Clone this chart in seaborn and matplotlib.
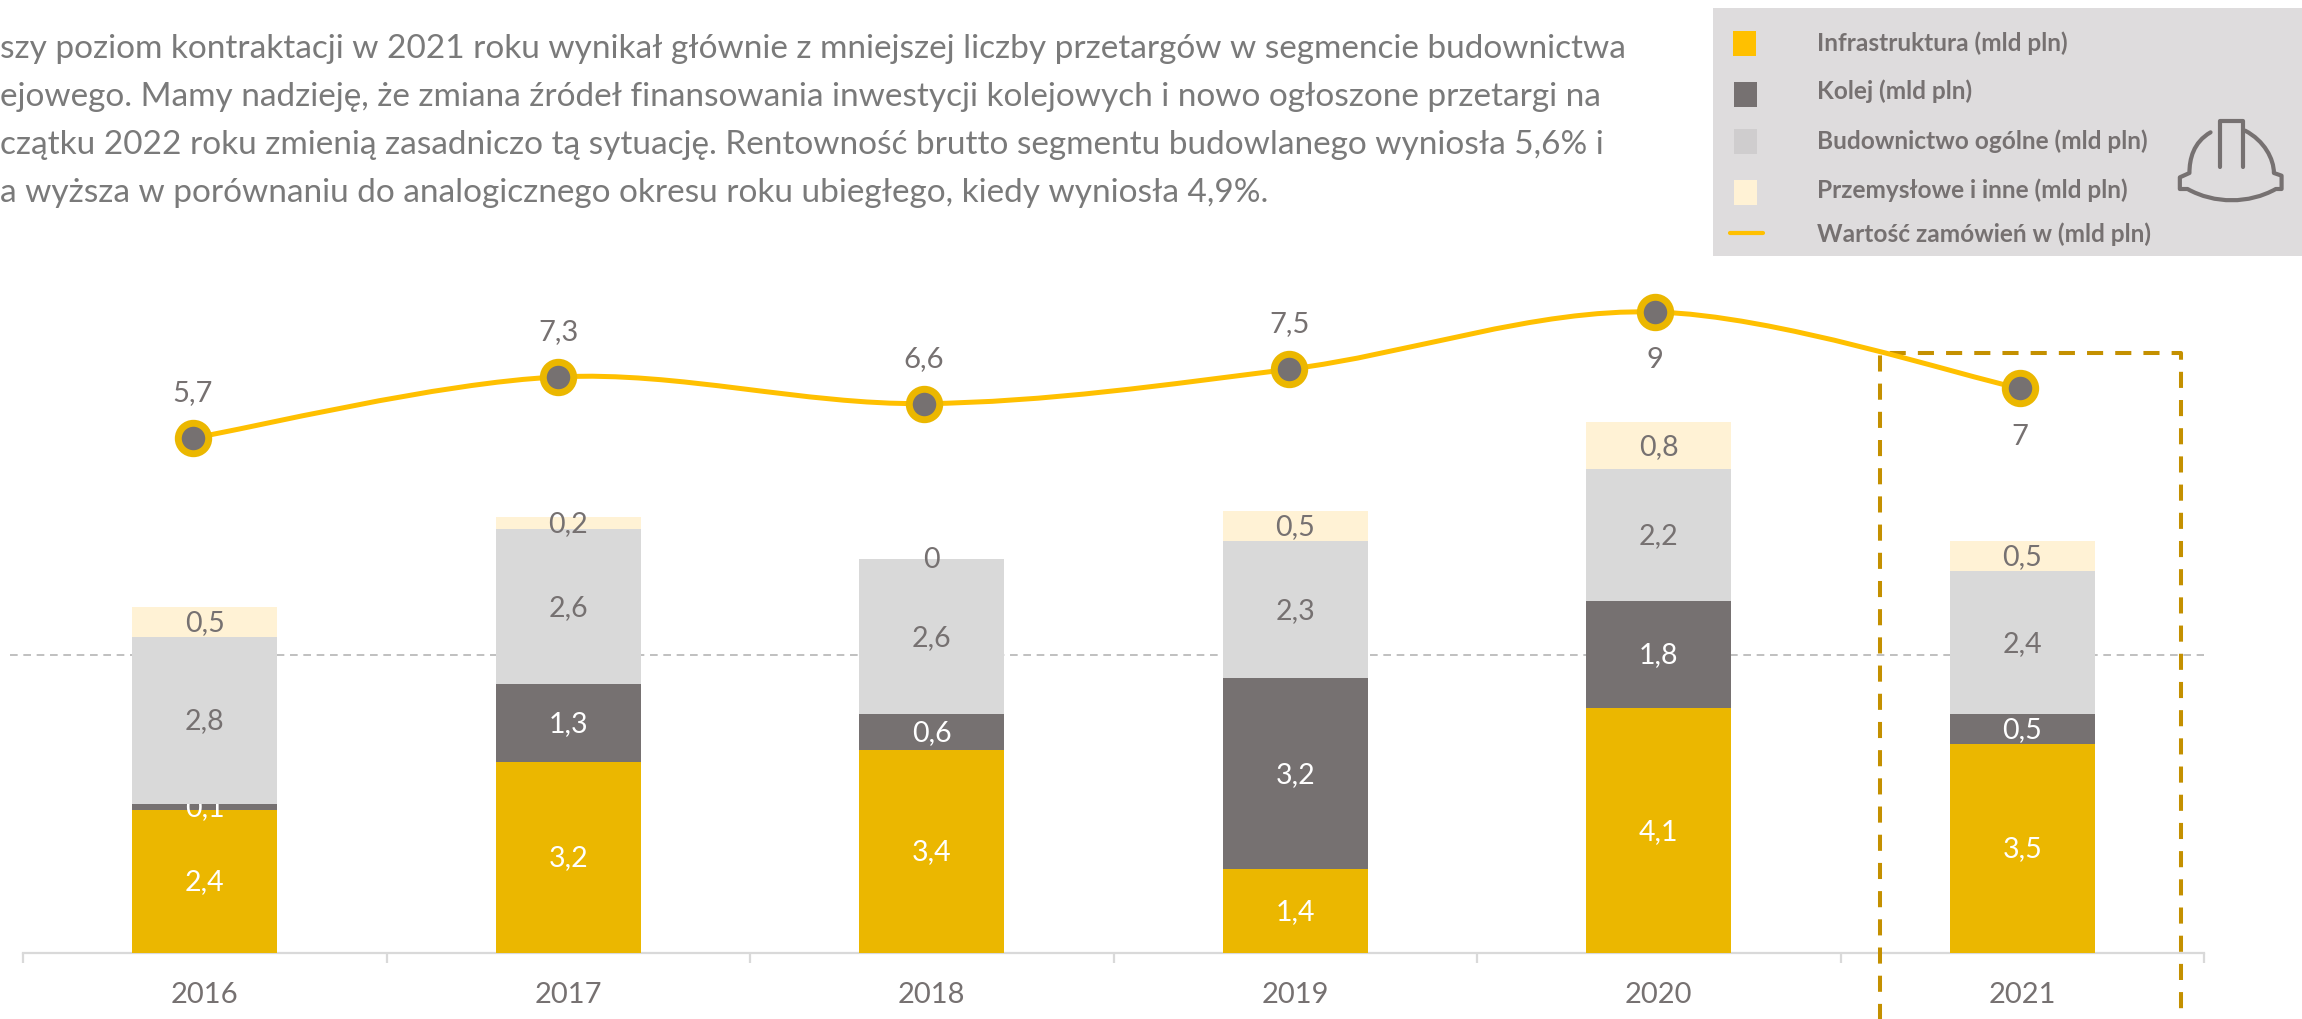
import numpy as np
import seaborn as sns
import matplotlib.pyplot as plt
from matplotlib.path import Path
from matplotlib.patches import PathPatch, Rectangle

years = ['2016', '2017', '2018', '2019', '2020', '2021']
infrastruktura = [2.4, 3.2, 3.4, 1.4, 4.1, 3.5]
kolej = [0.1, 1.3, 0.6, 3.2, 1.8, 0.5]
budownictwo = [2.8, 2.6, 2.6, 2.3, 2.2, 2.4]
przemyslowe = [0.5, 0.2, 0, 0.5, 0.8, 0.5]
zamowienia = [5.7, 7.3, 6.6, 7.5, 9, 7]
label_below = [False, False, False, False, True, True]
reference_level = 5

legend_labels = ['Infrastruktura (mld pln)', 'Kolej (mld pln)', 'Budownictwo ogólne (mld pln)',
                 'Przemysłowe i inne (mld pln)', 'Wartość zamówień w (mld pln)']
body_lines = ['szy poziom kontraktacji w 2021 roku wynikał głównie z mniejszej liczby przetargów w segmencie budownictwa',
              'ejowego. Mamy nadzieję, że zmiana źródeł finansowania inwestycji kolejowych i nowo ogłoszone przetargi na',
              'czątku 2022 roku zmienią zasadniczo tą sytuację. Rentowność brutto segmentu budowlanego wyniosła 5,6% i',
              'a wyższa w porównaniu do analogicznego okresu roku ubiegłego, kiedy wyniosła 4,9%.']

YELLOW = '#EBB700'
LINE_YELLOW = '#FFC000'
DARK = '#767171'
LIGHT = '#D9D9D9'
CREAM = '#FFF2D5'
W, H = 2302, 1020

sns.set_theme(style='white')
plt.rcParams['font.family'] = ['Lato', 'DejaVu Sans']

fig = plt.figure(figsize=(W / 100, H / 100), dpi=100)
# chart area in pixels: x 23..2204, y 200..954
rect = [23 / W, 1 - 954 / H, (2204 - 23) / W, (954 - 200) / H]
ax = fig.add_axes(rect, zorder=1)
over = fig.add_axes([0, 0, 1, 1], zorder=2)
over.set_xlim(0, W)
over.set_ylim(H, 0)
over.axis('off')
ax2 = fig.add_axes(rect, zorder=3)


def fmt(v):
    return f'{v:g}'.replace('.', ',')


# stacked bars
layers = [(infrastruktura, YELLOW, 'white'), (kolej, DARK, 'white'),
          (budownictwo, LIGHT, DARK), (przemyslowe, CREAM, DARK)]
bottom = np.zeros(len(years))
for vals, col, txt in layers:
    sns.barplot(x=years, y=vals, bottom=bottom, color=col, saturation=1, width=0.4, ax=ax, zorder=3,
                linewidth=0, edgecolor='none')
    ax.bar_label(ax.containers[-1], labels=[fmt(v) for v in vals], label_type='center',
                 color=txt, fontsize=20.5)
    bottom = bottom + np.array(vals)

ax.set_xlim(-0.5, 5.5)
ax.set_ylim(0, 754 / 59.7)
ax.hlines(reference_level, -0.536, 5.5, color='#B5B5B5', lw=1.2, linestyles=(0, (4.6, 3.4)), zorder=1, clip_on=False)
sns.despine(ax=ax, left=True)
ax.spines['bottom'].set_color(LIGHT)
ax.spines['bottom'].set_linewidth(1.6)
ax.set_yticks([])
ax.set_xticks(range(len(years)))
ax.set_xticks(np.arange(-0.5, 6), minor=True)
ax.tick_params(axis='x', which='major', length=0, pad=20, labelsize=21, labelcolor=DARK)
ax.tick_params(axis='x', which='minor', length=7, width=1.6, color=LIGHT, bottom=True)

# order line, has its own slightly wider x scale
xpos = np.arange(len(zamowienia), dtype=float)
yvals = np.array(zamowienia, dtype=float)
xlim2 = (-170 / 365.4, 5 + 184 / 365.4)
ylim2 = (5.7 - 515 / 38.2, 5.7 + 239 / 38.2)
ax2.axis('off')
ax2.patch.set_alpha(0)

verts = [(xpos[0], yvals[0])]
codes = [Path.MOVETO]
n = len(xpos)
for i in range(n - 1):
    p0 = np.array([xpos[max(i - 1, 0)], yvals[max(i - 1, 0)]])
    p1 = np.array([xpos[i], yvals[i]])
    p2 = np.array([xpos[i + 1], yvals[i + 1]])
    p3 = np.array([xpos[min(i + 2, n - 1)], yvals[min(i + 2, n - 1)]])
    verts += [tuple(p1 + (p2 - p0) / 6), tuple(p2 - (p3 - p1) / 6), tuple(p2)]
    codes += [Path.CURVE4] * 3
ax2.add_patch(PathPatch(Path(verts, codes), fc='none', ec=LINE_YELLOW, lw=3.6, zorder=2))
sns.scatterplot(x=xpos, y=yvals, s=480, color=DARK, edgecolor=YELLOW, linewidth=5, ax=ax2, zorder=3, clip_on=False)
ax2.set_xlim(*xlim2)
ax2.set_ylim(*ylim2)
for x, y, below in zip(xpos, zamowienia, label_below):
    ax2.annotate(fmt(y), (x, y), xytext=(0, -34 if below else 33), textcoords='offset points',
                 ha='center', va='center', color=DARK, fontsize=21)

# highlighted 2021 frame
over.plot([1880, 1880, 2181, 2181], [1040, 354, 354, 1040], color='#C49000', lw=2.9,
          ls=(0, (4, 3)), clip_on=True)

# body text
for line, y in zip(body_lines, [49, 97, 145, 193]):
    over.text(0, y, line, ha='left', va='center', color='#7A7A7A', fontsize=24)

# legend panel
over.add_patch(Rectangle((1713, 9), W - 1713, 248, fc='#DEDCDD', ec='none'))
swatches = [(1733, 32, LINE_YELLOW), (1734, 83, DARK), (1734, 130, '#CFCDCE'), (1734, 181, CREAM)]
for x, y, c in swatches:
    over.add_patch(Rectangle((x, y), 23, 25, fc=c, ec='none'))
over.plot([1730, 1763], [234, 234], color=LINE_YELLOW, lw=3)
for label, y in zip(legend_labels, [43, 91, 141, 190, 234]):
    over.text(1817, y, label, ha='left', va='center', color=DARK, fontsize=17.6, fontweight='bold')

# helmet icon, traced in pixels
hx = lambda v: 1700 + v / 2.605
hy = lambda v: v / 3
tab = [(1355, 505), (1355, 365), (1415, 365), (1415, 505)]
over.plot([hx(a) for a, b in tab], [hy(b) for a, b in tab], color=DARK, lw=3, solid_capstyle='round', solid_joinstyle='round')
shell = Path([(hx(1330), hy(400)), (hx(1285), hy(430)), (hx(1275), hy(480)), (hx(1275), hy(522)),
              (hx(1250), hy(535)), (hx(1250), hy(570)), (hx(1270), hy(570)),
              (hx(1340), hy(615)), (hx(1430), hy(615)), (hx(1500), hy(570)),
              (hx(1515), hy(570)), (hx(1515), hy(530)), (hx(1495), hy(522)),
              (hx(1495), hy(480)), (hx(1470), hy(425)), (hx(1420), hy(395))],
             [Path.MOVETO, Path.CURVE4, Path.CURVE4, Path.CURVE4,
              Path.LINETO, Path.LINETO, Path.LINETO,
              Path.CURVE4, Path.CURVE4, Path.CURVE4,
              Path.LINETO, Path.LINETO, Path.LINETO,
              Path.CURVE4, Path.CURVE4, Path.CURVE4])
over.add_patch(PathPatch(shell, fc='none', ec=DARK, lw=3, capstyle='round', joinstyle='round'))

fig.savefig('out.png', dpi=100)
